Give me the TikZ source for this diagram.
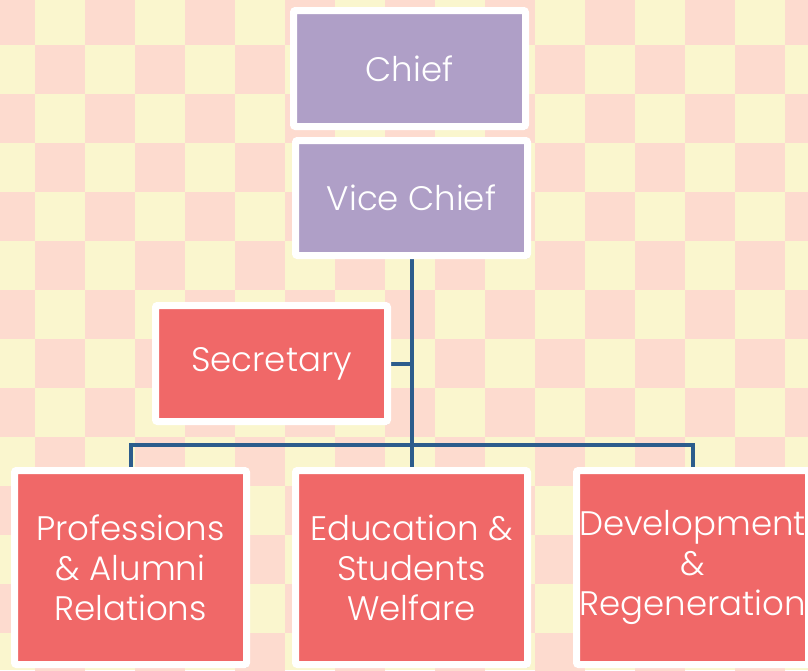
\documentclass[tikz,border=0pt]{standalone}
\usepackage{fontspec}
\setmainfont{Poppins Light}
\usetikzlibrary{shadows}
\definecolor{bgpink}{RGB}{253,219,207}
\definecolor{bgyellow}{RGB}{250,246,206}
\definecolor{boxpurple}{RGB}{175,159,199}
\definecolor{boxred}{RGB}{240,104,104}
\definecolor{linkblue}{RGB}{44,92,140}
\pgfdeclarelayer{back}
\pgfdeclarelayer{links}
\pgfsetlayers{back,links,main}
\begin{document}
\begin{tikzpicture}[x=1pt,y=-1pt,
  orgbox/.style={draw=white, line width=7pt, rounded corners=2pt,
    minimum width=232pt, inner sep=0pt, align=center, text=white,
    font=\fontsize{34}{40}\selectfont,
    drop shadow={opacity=0.3, shadow xshift=2pt, shadow yshift=-3pt}},
  link/.style={draw=linkblue, line width=4pt}]
\useasboundingbox (0,0) rectangle (808,670);
\begin{pgfonlayer}{back}
  \fill[bgyellow] (0,0) rectangle (808,670);
  \foreach \i in {0,...,16}{
    \foreach \j in {0,...,14}{
      \pgfmathtruncatemacro\s{mod(\i+\j,2)}
      \ifnum\s=0
        \fill[bgpink] ({35+50*(\i-1)},{45+49*(\j-1)}) rectangle ({35+50*\i},{45+49*\j});
      \fi
    }
  }
\end{pgfonlayer}
\node[orgbox, fill=boxpurple, minimum height=116pt] (chief) at (409.5,68.5) {Chief};
\node[orgbox, fill=boxpurple, minimum height=115pt] (vice) at (411.5,198) {Vice Chief};
\node[orgbox, fill=boxred, minimum height=116pt] (sec) at (271.5,363.5) {Secretary};
\node[orgbox, fill=boxred, minimum height=194pt] (prof) at (130.5,567.5) {Professions\\\& Alumni\\Relations};
\node[orgbox, fill=boxred, minimum height=194pt] (edu) at (411.5,567.5) {Education \&\\Students\\Welfare};
\node[orgbox, fill=boxred, minimum height=194pt] (dev) at (692.5,567.5) {Development\\\&\\Regeneration};
\coordinate (bus) at (411.5,445);
\begin{pgfonlayer}{links}
  \draw[link] (vice.south) -- (edu.north);
  \draw[link] (sec.east) -- (sec.east -| vice.south);
  \draw[link] (prof.north) |- (bus) -| (dev.north);
\end{pgfonlayer}
\end{tikzpicture}
\end{document}
